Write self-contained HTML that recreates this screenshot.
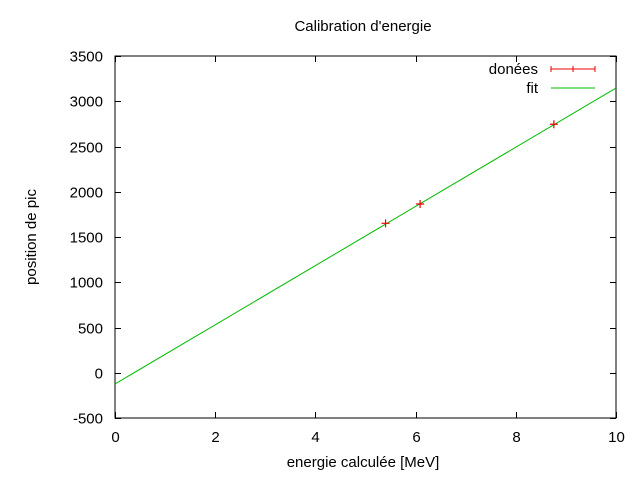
<!DOCTYPE html>
<html><head><meta charset="utf-8"><style>
body{margin:0;background:#fff}
svg text{font-family:"Liberation Sans",sans-serif;font-size:15px;fill:#000}
</style></head><body>
<svg id="chart" width="640" height="480" viewBox="0 0 640 480" xmlns="http://www.w3.org/2000/svg">
<rect x="0" y="0" width="640" height="480" fill="#fff"/>
<text x="363" y="31" text-anchor="middle">Calibration d'energie</text>
<text x="363" y="467" text-anchor="middle">energie calculée [MeV]</text>
<text transform="translate(36,237) rotate(-90)" text-anchor="middle">position de pic</text>
<g id="axes"></g>
<g id="marks"></g>
<g>
<text x="538" y="74" text-anchor="end">donées</text>
<g stroke="#e00" stroke-width="1">
<line x1="551" y1="69" x2="595" y2="69"/><line x1="551" y1="66" x2="551" y2="72"/><line x1="595" y1="66" x2="595" y2="72"/><line x1="573" y1="66" x2="573" y2="72"/></g>
<text x="538" y="93" text-anchor="end">fit</text>
<line x1="551" y1="88" x2="595" y2="88" stroke="#0b0" stroke-width="1"/>
</g>
</svg>
<script>
const xTicks = [0, 2, 4, 6, 8, 10];
const yTicks = [-500, 0, 500, 1000, 1500, 2000, 2500, 3000, 3500];
const energies = [5.40, 6.09, 8.76];
const positions = [1651, 1865, 2746];
const fitSlope = [327];
const fitIntercept = [-124];

const L=115,R=616,T=56,B=418;
const sx=v=>L+(v-0)/(10-0)*(R-L);
const sy=v=>B-(v+500)/(4000)*(B-T);
const NS="http://www.w3.org/2000/svg";
const axes=document.getElementById('axes');
const marks=document.getElementById('marks');
function mk(tag,attrs,parent){const e=document.createElementNS(NS,tag);for(const k in attrs)e.setAttribute(k,attrs[k]);parent.appendChild(e);return e;}

const frame=mk('rect',{x:L,y:T,width:R-L,height:B-T,fill:'none',stroke:'#000','stroke-width':1},axes);



xTicks.forEach(v=>{
  const x=Math.round(sx(v))+0.5;
  const t1=mk('line',{x1:x,y1:B,x2:x,y2:B-6,stroke:'#000'},axes);
  
  
  const t2=mk('line',{x1:x,y1:T,x2:x,y2:T+6,stroke:'#000'},axes);
  
  
  const tx=mk('text',{x:x,y:B+24,'text-anchor':'middle'},axes);
  tx.textContent=v;
  
  
});
yTicks.forEach(v=>{
  const y=Math.round(sy(v))+0.5;
  const t1=mk('line',{x1:L,y1:y,x2:L+6,y2:y,stroke:'#000'},axes);
  
  
  const t2=mk('line',{x1:R,y1:y,x2:R-6,y2:y,stroke:'#000'},axes);
  
  
  const tx=mk('text',{x:L-12,y:y+5,'text-anchor':'end'},axes);
  tx.textContent=v;
  
  
});

const fl=mk('line',{x1:sx(0),y1:sy(fitIntercept[0]),x2:sx(10),y2:sy(fitSlope[0]*10+fitIntercept[0]),stroke:'#0b0','stroke-width':1},marks);



energies.forEach((e,i)=>{
  const x=sx(e),y=sy(positions[i]);
  const p=mk('path',{d:`M${x-4},${y}H${x+4}M${x},${y-4}V${y+4}`,stroke:'#e00','stroke-width':1.2,fill:'none'},marks);
  
  
});
</script>
</body></html>
